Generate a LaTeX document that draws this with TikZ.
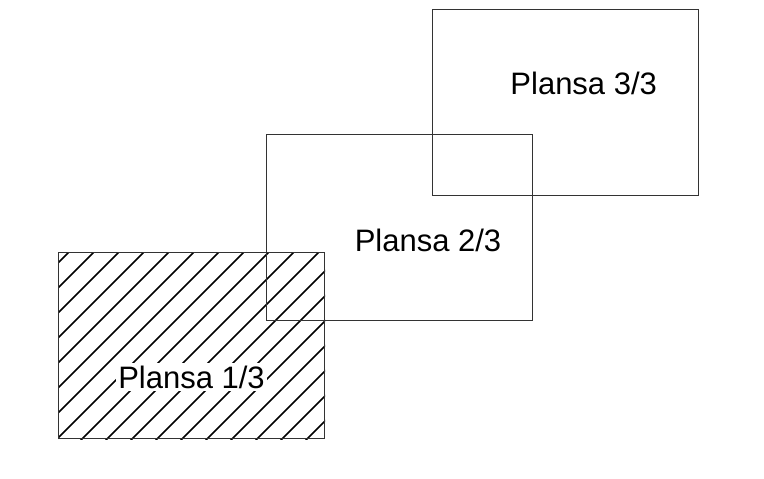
\documentclass[tikz,border=0pt]{standalone}
\usepackage{fontspec}
\setmainfont{Liberation Sans}
\begin{document}
\begin{tikzpicture}[x=1pt,y=-1pt,
	sheet/.style={draw=black!80,line width=1pt,minimum width=266pt,minimum height=186pt,inner sep=0},
	label/.style={font=\fontsize{31pt}{36pt}\selectfont,anchor=base,inner sep=2.5pt},
	hatch/.style={line width=1.6pt,black}]
\useasboundingbox (0,0) rectangle (764,479);
% sheet 1/3, hatched
\node[sheet] (p1) at (191.6,345.8) {};
\begin{scope}
	\clip (p1.south west) rectangle (p1.north east);
	\foreach \k in {0,...,19}
		\draw[hatch] (68.3+25*\k,252.7) -- ++(-200,200);
\end{scope}
\node[sheet] at (p1) {};
\node[label,fill=white] (t1) at (191.5,388.3) {Plansa 1/3};
% sheets 2/3 and 3/3
\node[sheet] (p2) at (399.8,227.2) {};
\node[label] (t2) at (428,251) {Plansa 2/3};
\node[sheet] (p3) at (565.5,102.5) {};
\node[label] (t3) at (583.7,94.3) {Plansa 3/3};
\end{tikzpicture}
\end{document}
